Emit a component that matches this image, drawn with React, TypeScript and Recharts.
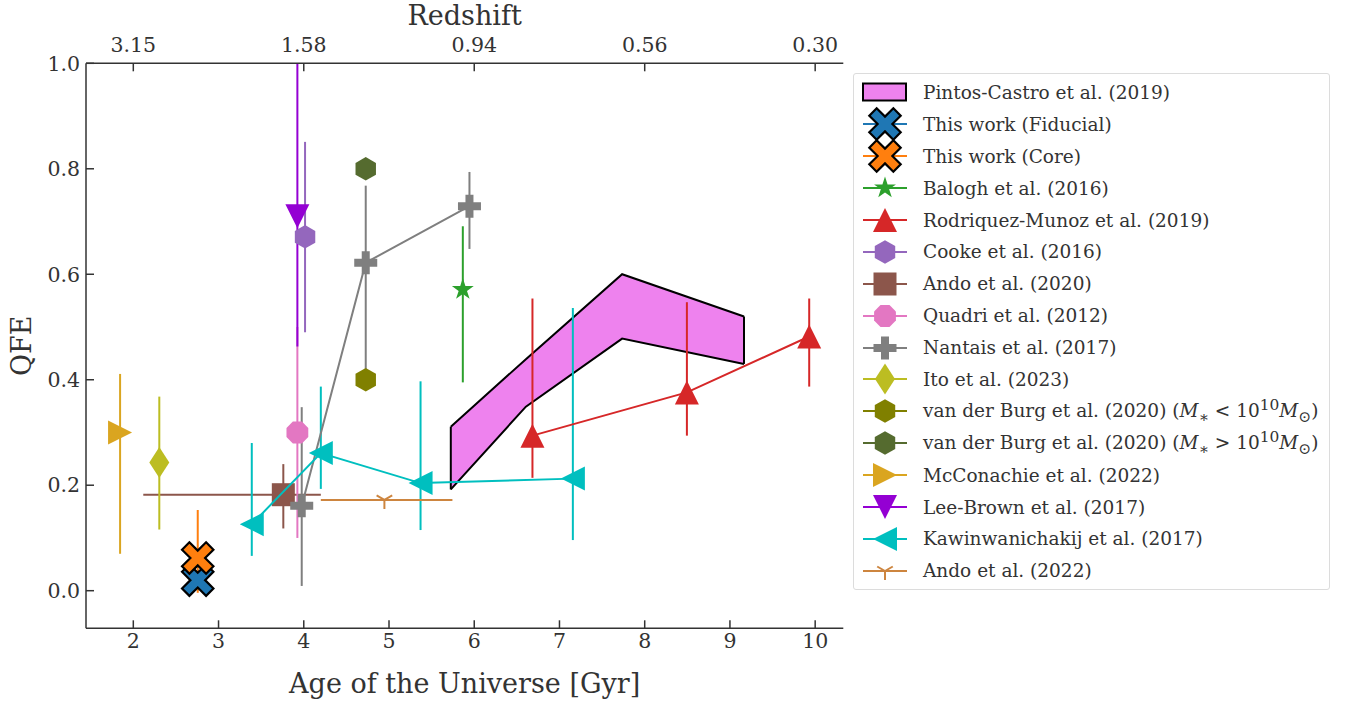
import React from 'react'
import { ComposedChart, Scatter, Area, XAxis, YAxis, ErrorBar, ReferenceLine, Label } from 'recharts'

const FONT = "'DejaVu Serif', 'Liberation Serif', 'Times New Roman', serif"
const INK = '#333'

// axes
const ageTicks = [2, 3, 4, 5, 6, 7, 8, 9, 10]
const redshiftTicks = [2, 4, 6, 8, 10]
const redshiftLabels = ['3.15', '1.58', '0.94', '0.56', '0.30']
const qfeTicks = [0, 0.2, 0.4, 0.6, 0.8, 1.0]

// Pintos-Castro et al. (2019) band
const pintosAge = [5.725, 6.606, 7.735, 9.165]
const pintosLow = [0.192, 0.349, 0.478, 0.43]
const pintosHigh = [0.311, 0.439, 0.6, 0.52]

// points: age, qfe, lower / upper error
const fiducialAge = [2.756]
const fiducialQfe = [0.02]
const fiducialLo = [0.02]
const fiducialHi = [0.02]

const coreAge = [2.756]
const coreQfe = [0.062]
const coreLo = [0.066]
const coreHi = [0.091]

const baloghAge = [5.866]
const baloghQfe = [0.571]
const baloghLo = [0.176]
const baloghHi = [0.12]

const rodriquezAge = [6.683, 8.495, 9.93]
const rodriquezQfe = [0.294, 0.376, 0.482]
const rodriquezLo = [0.08, 0.082, 0.095]
const rodriquezHi = [0.26, 0.171, 0.072]

const cookeAge = [4.015]
const cookeQfe = [0.671]
const cookeLo = [0.181]
const cookeHi = [0.18]

const ando20Age = [3.76]
const ando20Qfe = [0.182]
const ando20Lo = [0.064]
const ando20Hi = [0.058]
const ando20AgeLo = [1.643]
const ando20AgeHi = [0.44]

const quadriAge = [3.925]
const quadriQfe = [0.3]
const quadriLo = [0.2]
const quadriHi = [0.2]

const nantaisAge = [3.976, 4.727, 5.944]
const nantaisQfe = [0.161, 0.622, 0.729]
const nantaisLo = [0.152, 0.222, 0.081]
const nantaisHi = [0.187, 0.146, 0.065]

const itoAge = [2.305]
const itoQfe = [0.243]
const itoLo = [0.127]
const itoHi = [0.125]

const vdbLowAge = [4.727]
const vdbLowQfe = [0.4]

const vdbHighAge = [4.727]
const vdbHighQfe = [0.8]

const mcconachieAge = [1.845]
const mcconachieQfe = [0.3]
const mcconachieLo = [0.23]
const mcconachieHi = [0.111]

const leeBrownAge = [3.925]
const leeBrownQfe = [0.71]
const leeBrownLo = [0.247]
const leeBrownHi = [0.29]

const kawinAge = [3.39, 4.2, 5.37, 7.157]
const kawinQfe = [0.126, 0.261, 0.204, 0.2125]
const kawinLo = [0.06, 0.068, 0.089, 0.1165]
const kawinHi = [0.154, 0.126, 0.193, 0.3235]

const ando22Age = [4.946]
const ando22Qfe = [0.172]
const ando22AgeLo = [0.746]
const ando22AgeHi = [0.798]

type Kind =
  | 'X' | 'star' | 'triUp' | 'triDown' | 'triLeft' | 'triRight'
  | 'hex' | 'square' | 'oct' | 'plus' | 'thinDiamond' | 'tri1'

function pts(age: number[], qfe: number[], lo?: number[], hi?: number[], xlo?: number[], xhi?: number[]) {
  return age.map((x, i) => ({
    x,
    y: qfe[i],
    ey: lo && hi ? [lo[i], hi[i]] : undefined,
    ex: xlo && xhi ? [xlo[i], xhi[i]] : undefined,
  }))
}

const poly = (p: number[][]) => p.map((q) => q.join(',')).join(' ')
const ring = (n: number, r: number, start: number, cx: number, cy: number) =>
  Array.from({ length: n }, (_, k) => {
    const a = ((start + (360 / n) * k) * Math.PI) / 180
    return [cx + r * Math.cos(a), cy + r * Math.sin(a)]
  })

function Marker({ cx, cy, kind, color }: { cx: number; cy: number; kind: Kind; color: string }) {
  if (cx == null || cy == null) return null
  switch (kind) {
    case 'X': {
      const a = 17, t = 5.2
      const base = [[-t, -a], [t, -a], [t, -t], [a, -t], [a, t], [t, t], [t, a], [-t, a], [-t, t], [-a, t], [-a, -t], [-t, -t]]
      const c = Math.SQRT1_2
      const p = base.map(([x, y]) => [cx + (x - y) * c, cy + (x + y) * c])
      return <polygon points={poly(p)} fill={color} stroke="#000" strokeWidth={2.2} strokeLinejoin="miter" />
    }
    case 'star': {
      const p: number[][] = []
      for (let k = 0; k < 10; k++) {
        const r = k % 2 === 0 ? 11.5 : 11.5 * 0.382
        const a = ((-90 + 36 * k) * Math.PI) / 180
        p.push([cx + r * Math.cos(a), cy + r * Math.sin(a)])
      }
      return <polygon points={poly(p)} fill={color} />
    }
    case 'triUp':
      return <polygon points={poly([[cx, cy - 12], [cx - 12, cy + 12], [cx + 12, cy + 12]])} fill={color} />
    case 'triDown':
      return <polygon points={poly([[cx, cy + 12], [cx - 12, cy - 12], [cx + 12, cy - 12]])} fill={color} />
    case 'triLeft':
      return <polygon points={poly([[cx - 12, cy], [cx + 12, cy - 12], [cx + 12, cy + 12]])} fill={color} />
    case 'triRight':
      return <polygon points={poly([[cx + 12, cy], [cx - 12, cy - 12], [cx - 12, cy + 12]])} fill={color} />
    case 'hex':
      return <polygon points={poly(ring(6, 11.8, -90, cx, cy))} fill={color} />
    case 'oct':
      return <polygon points={poly(ring(8, 11.8, 22.5, cx, cy))} fill={color} />
    case 'square':
      return <rect x={cx - 11.5} y={cy - 11.5} width={23} height={23} fill={color} />
    case 'plus': {
      const a = 11.5, t = 4
      const p = [[-t, -a], [t, -a], [t, -t], [a, -t], [a, t], [t, t], [t, a], [-t, a], [-t, t], [-a, t], [-a, -t], [-t, -t]]
      return <polygon points={poly(p.map(([x, y]) => [cx + x, cy + y]))} fill={color} />
    }
    case 'thinDiamond':
      return <polygon points={poly([[cx, cy - 15.5], [cx + 10, cy], [cx, cy + 15.5], [cx - 10, cy]])} fill={color} />
    case 'tri1': {
      const r = 9
      return (
        <g stroke={color} strokeWidth={2}>
          <line x1={cx} y1={cy} x2={cx} y2={cy + r} />
          <line x1={cx} y1={cy} x2={cx - r * 0.866} y2={cy - r * 0.5} />
          <line x1={cx} y1={cy} x2={cx + r * 0.866} y2={cy - r * 0.5} />
        </g>
      )
    }
  }
  return null
}

type Series = {
  name: React.ReactNode
  key: string
  color: string
  kind: Kind
  data: ReturnType<typeof pts>
  line?: boolean
}

const series: Series[] = [
  { key: 'fid', name: 'This work (Fiducial)', color: '#1f77b4', kind: 'X', data: pts(fiducialAge, fiducialQfe, fiducialLo, fiducialHi) },
  { key: 'core', name: 'This work (Core)', color: '#ff7f0e', kind: 'X', data: pts(coreAge, coreQfe, coreLo, coreHi) },
  { key: 'balogh', name: 'Balogh et al. (2016)', color: '#2ca02c', kind: 'star', data: pts(baloghAge, baloghQfe, baloghLo, baloghHi) },
  { key: 'rod', name: 'Rodriquez-Munoz et al. (2019)', color: '#d62728', kind: 'triUp', data: pts(rodriquezAge, rodriquezQfe, rodriquezLo, rodriquezHi), line: true },
  { key: 'cooke', name: 'Cooke et al. (2016)', color: '#9467bd', kind: 'hex', data: pts(cookeAge, cookeQfe, cookeLo, cookeHi) },
  { key: 'ando20', name: 'Ando et al. (2020)', color: '#8c564b', kind: 'square', data: pts(ando20Age, ando20Qfe, ando20Lo, ando20Hi, ando20AgeLo, ando20AgeHi) },
  { key: 'quadri', name: 'Quadri et al. (2012)', color: '#e377c2', kind: 'oct', data: pts(quadriAge, quadriQfe, quadriLo, quadriHi) },
  { key: 'nantais', name: 'Nantais et al. (2017)', color: '#7f7f7f', kind: 'plus', data: pts(nantaisAge, nantaisQfe, nantaisLo, nantaisHi), line: true },
  { key: 'ito', name: 'Ito et al. (2023)', color: '#bcbd22', kind: 'thinDiamond', data: pts(itoAge, itoQfe, itoLo, itoHi) },
  {
    key: 'vdbl',
    name: (<>van der Burg et al. (2020) (<i>M</i><sub>∗</sub> &lt; 10<sup>10</sup><i>M</i><sub>⊙</sub>)</>),
    color: '#808000', kind: 'hex', data: pts(vdbLowAge, vdbLowQfe),
  },
  {
    key: 'vdbh',
    name: (<>van der Burg et al. (2020) (<i>M</i><sub>∗</sub> &gt; 10<sup>10</sup><i>M</i><sub>⊙</sub>)</>),
    color: '#556b2f', kind: 'hex', data: pts(vdbHighAge, vdbHighQfe),
  },
  { key: 'mcc', name: 'McConachie et al. (2022)', color: '#daa520', kind: 'triRight', data: pts(mcconachieAge, mcconachieQfe, mcconachieLo, mcconachieHi) },
  { key: 'lee', name: 'Lee-Brown et al. (2017)', color: '#9400d3', kind: 'triDown', data: pts(leeBrownAge, leeBrownQfe, leeBrownLo, leeBrownHi) },
  { key: 'kawin', name: 'Kawinwanichakij et al. (2017)', color: '#00bfbf', kind: 'triLeft', data: pts(kawinAge, kawinQfe, kawinLo, kawinHi), line: true },
  { key: 'ando22', name: 'Ando et al. (2022)', color: '#cd853f', kind: 'tri1', data: pts(ando22Age, ando22Qfe, undefined, undefined, ando22AgeLo, ando22AgeHi) },
]

const pintosData = pintosAge.map((x, i) => ({ x, range: [pintosLow[i], pintosHigh[i]] }))

function LegendBox() {
  const row = { height: 31.9, display: 'flex', alignItems: 'center' } as React.CSSProperties
  return (
    <div
      style={{
        position: 'absolute', left: 853, top: 73, width: 477, height: 517, boxSizing: 'border-box',
        border: '1.5px solid #dcdcdc', borderRadius: 3, paddingTop: 2.5, background: '#fff',
        fontFamily: FONT, fontSize: 18.5, color: INK,
      }}
    >
      <div style={row}>
        <svg width={69} height={32} style={{ flex: 'none' }}>
          <rect x={9} y={7.5} width={43} height={17} fill="#ee82ee" stroke="#000" strokeWidth={2} />
        </svg>
        <span style={{ whiteSpace: 'nowrap' }}>Pintos-Castro et al. (2019)</span>
      </div>
      {series.map((s) => (
        <div key={s.key} style={row}>
          <svg width={69} height={32} style={{ flex: 'none', overflow: 'visible' }}>
            <line x1={9} y1={16} x2={53} y2={16} stroke={s.color} strokeWidth={2} />
            <Marker cx={31} cy={16} kind={s.kind} color={s.color} />
          </svg>
          <span style={{ whiteSpace: 'nowrap' }}>{s.name}</span>
        </div>
      ))}
    </div>
  )
}

export default function App() {
  const tickStyle = { fill: INK, fontSize: 20.5, fontFamily: FONT }
  return (
    <div style={{ position: 'absolute', left: 0, top: 0, width: 1352, height: 703, background: '#fff' }}>
      <ComposedChart width={1352} height={703} margin={{ top: 0, right: 508.7, bottom: 0, left: 0 }}>
        <XAxis
          xAxisId="b" type="number" dataKey="x" orientation="bottom" domain={[1.445, 10.33]} allowDataOverflow
          ticks={ageTicks} interval={0} height={74.7} tickSize={-8} tickMargin={13}
          axisLine={{ stroke: INK, strokeWidth: 1.5 }} tickLine={{ stroke: INK, strokeWidth: 1.5 }} tick={tickStyle}
        >
          <Label value="Age of the Universe [Gyr]" position="insideBottom" offset={10} fontSize={27} fill={INK} fontFamily={FONT} />
        </XAxis>
        <XAxis
          xAxisId="t" type="number" dataKey="x" orientation="top" domain={[1.445, 10.33]} allowDataOverflow
          ticks={redshiftTicks} interval={0} height={63.3} tickSize={-8} tickMargin={19}
          tickFormatter={(v: number) => redshiftLabels[redshiftTicks.indexOf(v)] ?? ''}
          axisLine={{ stroke: INK, strokeWidth: 1.5 }} tickLine={{ stroke: INK, strokeWidth: 1.5 }} tick={tickStyle}
        >
          <Label value="Redshift" position="insideTop" offset={6} fontSize={27} fill={INK} fontFamily={FONT} />
        </XAxis>
        <YAxis
          yAxisId="l" type="number" dataKey="y" domain={[-0.0713, 1]} allowDataOverflow ticks={qfeTicks} interval={0}
          width={86} tickSize={-8} tickMargin={14} tickFormatter={(v: number) => v.toFixed(1)}
          axisLine={{ stroke: INK, strokeWidth: 1.5 }} tickLine={{ stroke: INK, strokeWidth: 1.5 }} tick={tickStyle}
        >
          <Label
            content={(props: any) => {
              const vb = props.viewBox || {}
              const x = (vb.x ?? 0) + 22
              const y = (vb.y ?? 0) + (vb.height ?? 0) / 2
              return (
                <text x={x} y={y} transform={`rotate(-90, ${x}, ${y})`} textAnchor="middle" dominantBaseline="central"
                  fontSize={27} fill={INK} fontFamily={FONT}>QFE</text>
              )
            }}
          />
        </YAxis>
        <YAxis
          yAxisId="r" type="number" orientation="right" domain={[-0.0713, 1]} allowDataOverflow width={0}
          tick={false} tickLine={false} axisLine={{ stroke: INK, strokeWidth: 1.5 }}
        />

        <Area
          xAxisId="b" yAxisId="l" data={pintosData} dataKey="range" type="linear" fill="#ee82ee" fillOpacity={1}
          stroke="#000" strokeWidth={2} dot={false} activeDot={false} isAnimationActive={false}
        />
        <ReferenceLine
          xAxisId="b" yAxisId="l" stroke="#000" strokeWidth={2}
          segment={[{ x: pintosAge[0], y: pintosLow[0] }, { x: pintosAge[0], y: pintosHigh[0] }]}
        />
        <ReferenceLine
          xAxisId="b" yAxisId="l" stroke="#000" strokeWidth={2}
          segment={[
            { x: pintosAge[pintosAge.length - 1], y: pintosLow[pintosLow.length - 1] },
            { x: pintosAge[pintosAge.length - 1], y: pintosHigh[pintosHigh.length - 1] },
          ]}
        />

        {series.map((s) => (
          <Scatter
            key={s.key} xAxisId="b" yAxisId="l" data={s.data} fill={s.color}
            line={s.line ? { stroke: s.color, strokeWidth: 2 } : false} lineType="joint"
            shape={(p: any) => <Marker cx={p.cx} cy={p.cy} kind={s.kind} color={s.color} />}
            isAnimationActive={false}
          >
            {s.data[0].ey && <ErrorBar dataKey="ey" direction="y" width={0} stroke={s.color} strokeWidth={2} isAnimationActive={false} />}
            {s.data[0].ex && <ErrorBar dataKey="ex" direction="x" width={0} stroke={s.color} strokeWidth={2} isAnimationActive={false} />}
          </Scatter>
        ))}
      </ComposedChart>
      <LegendBox />
    </div>
  )
}
